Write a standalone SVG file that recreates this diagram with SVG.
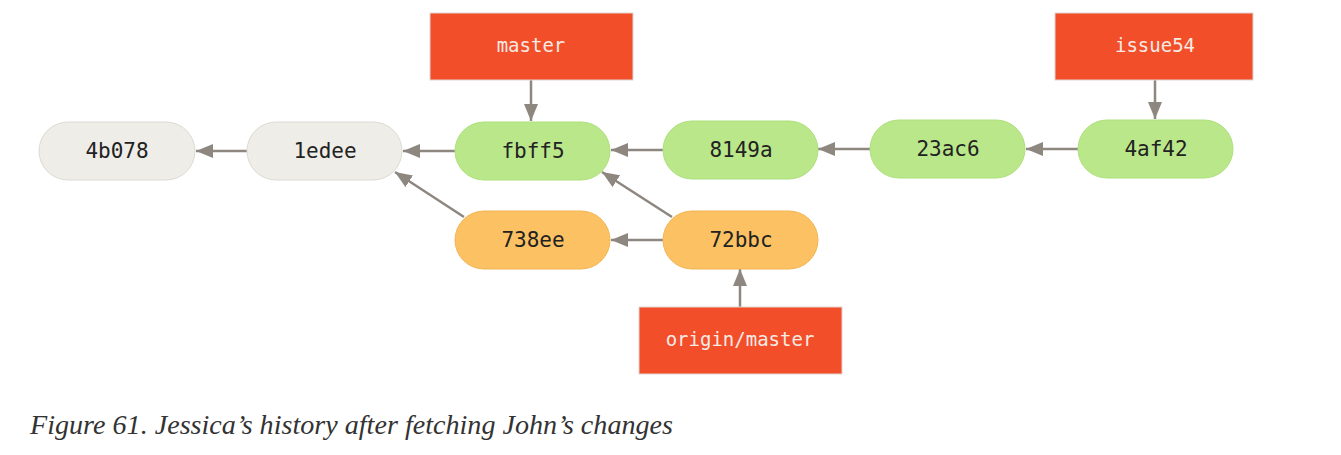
<svg xmlns="http://www.w3.org/2000/svg" width="1341" height="455" viewBox="0 0 1341 455">
  <style>
    .commit text { font-family: "DejaVu Sans Mono", "Liberation Mono", monospace; font-size: 21px; fill: #222; text-anchor: middle; dominant-baseline: central; }
    .base { fill: #eeede7; stroke: #dcdad2; stroke-width: 1; }
    .local { fill: #bae78a; stroke: #ade07c; stroke-width: 1; }
    .remote { fill: #fcc162; stroke: #f2b553; stroke-width: 1; }
    .ref rect { fill: #f24e2a; stroke: #e0d6d0; stroke-width: 1; }
    .ref text { font-family: "DejaVu Sans Mono", "Liberation Mono", monospace; font-size: 19px; fill: #f6ebe4; text-anchor: middle; dominant-baseline: central; }
    .edge { stroke: #8d877f; stroke-width: 2.5; fill: none; marker-end: url(#head); }
    .caption { font-family: "Liberation Serif", "DejaVu Serif", serif; font-style: italic; font-size: 27px; fill: #333333; }
  </style>
  <defs>
    <marker id="head" markerWidth="17" markerHeight="14" refX="17" refY="7" orient="auto" markerUnits="userSpaceOnUse">
      <path d="M0,0 L17,7 L0,14 Z" fill="#8d877f"/>
    </marker>
  </defs>

  <rect width="1341" height="455" fill="#ffffff"/>

  <!-- parent links and branch pointers -->
  <g id="connectors">
    <line class="edge" x1="247" y1="151" x2="196" y2="151"/>
    <line class="edge" x1="455" y1="151" x2="403" y2="151"/>
    <line class="edge" x1="663" y1="150" x2="611" y2="150"/>
    <line class="edge" x1="870" y1="149" x2="818" y2="149"/>
    <line class="edge" x1="1078" y1="149" x2="1026" y2="149"/>
    <line class="edge" x1="663" y1="240" x2="611" y2="240"/>
    <line class="edge" x1="464" y1="217" x2="395" y2="172"/>
    <line class="edge" x1="672" y1="217" x2="602" y2="172"/>
    <line class="edge" x1="531" y1="80" x2="531" y2="121"/>
    <line class="edge" x1="1155" y1="80" x2="1155" y2="119"/>
    <line class="edge" x1="740" y1="307" x2="740" y2="269"/>
  </g>

  <!-- commits -->
  <g id="c-4b078" class="commit">
    <rect class="base" x="39" y="122" width="156" height="58" rx="29"/>
    <text x="117" y="151">4b078</text>
  </g>
  <g id="c-1edee" class="commit">
    <rect class="base" x="247" y="122" width="155" height="58" rx="29"/>
    <text x="325" y="151">1edee</text>
  </g>
  <g id="c-fbff5" class="commit">
    <rect class="local" x="455" y="122" width="155" height="58" rx="29"/>
    <text x="533" y="151">fbff5</text>
  </g>
  <g id="c-8149a" class="commit">
    <rect class="local" x="663" y="121" width="155" height="58" rx="29"/>
    <text x="741" y="150">8149a</text>
  </g>
  <g id="c-23ac6" class="commit">
    <rect class="local" x="870" y="120" width="155" height="58" rx="29"/>
    <text x="948" y="149">23ac6</text>
  </g>
  <g id="c-4af42" class="commit">
    <rect class="local" x="1078" y="120" width="155" height="58" rx="29"/>
    <text x="1156" y="149">4af42</text>
  </g>
  <g id="c-738ee" class="commit">
    <rect class="remote" x="455" y="211" width="155" height="58" rx="29"/>
    <text x="533" y="240">738ee</text>
  </g>
  <g id="c-72bbc" class="commit">
    <rect class="remote" x="663" y="211" width="155" height="58" rx="29"/>
    <text x="741" y="240">72bbc</text>
  </g>

  <!-- branch labels -->
  <g id="ref-master" class="ref">
    <rect x="430" y="13" width="203" height="67"/>
    <text x="531" y="45">master</text>
  </g>
  <g id="ref-issue54" class="ref">
    <rect x="1055" y="13" width="198" height="67"/>
    <text x="1155" y="45">issue54</text>
  </g>
  <g id="ref-origin-master" class="ref">
    <rect x="639" y="307" width="203" height="67"/>
    <text x="740" y="339">origin/master</text>
  </g>

  <text class="caption" x="30" y="434" textLength="643" lengthAdjust="spacingAndGlyphs">Figure 61. Jessica’s history after fetching John’s changes</text>
</svg>
